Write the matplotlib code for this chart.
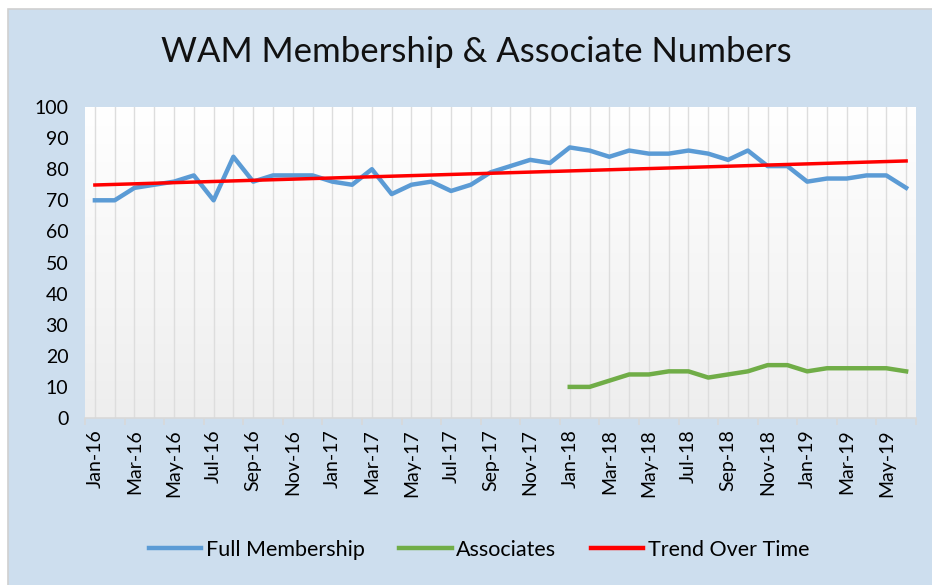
import numpy as np
import matplotlib.pyplot as plt
from matplotlib.colors import LinearSegmentedColormap
from matplotlib.patches import Rectangle
from matplotlib.lines import Line2D

plt.rcParams["font.family"] = ["Lato", "DejaVu Sans"]

# Data
months = [
  "Jan-16", "Feb-16", "Mar-16", "Apr-16", "May-16", "Jun-16",
  "Jul-16", "Aug-16", "Sep-16", "Oct-16", "Nov-16", "Dec-16",
  "Jan-17", "Feb-17", "Mar-17", "Apr-17", "May-17", "Jun-17",
  "Jul-17", "Aug-17", "Sep-17", "Oct-17", "Nov-17", "Dec-17",
  "Jan-18", "Feb-18", "Mar-18", "Apr-18", "May-18", "Jun-18",
  "Jul-18", "Aug-18", "Sep-18", "Oct-18", "Nov-18", "Dec-18",
  "Jan-19", "Feb-19", "Mar-19", "Apr-19", "May-19", "Jun-19",
]
full_membership = [
  70, 70, 74, 75, 76, 78, 70, 84, 76, 78, 78, 78,
  76, 75, 80, 72, 75, 76, 73, 75, 79, 81, 83, 82,
  87, 86, 84, 86, 85, 85, 86, 85, 83, 86, 81, 81,
  76, 77, 77, 78, 78, 74,
]
associates_start = "Jan-18"
associates = [10, 10, 12, 14, 14, 15, 15, 13, 14, 15, 17, 17, 15, 16, 16, 16, 16, 15]

BLUE = "#5b9bd5"
GREEN = "#70ad47"
RED = "#ff0000"
BG = "#cddeee"

x = np.arange(len(months))
a0 = months.index(associates_start)
xa = x[a0:a0 + len(associates)]

# linear trend of full membership
slope, intercept = np.polyfit(x, full_membership, 1)
trend = slope * x + intercept

fig = plt.figure(figsize=(9.32, 5.85), dpi=100)
fig.patch.set_facecolor("white")
bg = Rectangle((8 / 932, -0.01), 1, 1.01 - 9 / 585, transform=fig.transFigure,
               facecolor=BG, edgecolor="#d0d0d0", linewidth=1.2, zorder=-10)
fig.patches.append(bg)

ax = fig.add_axes([85 / 932, 1 - 418 / 585, 831 / 932, 311 / 585])
ax.set_xlim(-0.5, 41.5)
ax.set_ylim(0, 100)

# white-to-gray gradient for the plot area
grad = np.linspace(0, 1, 256).reshape(-1, 1)
ax.imshow(grad, extent=(-0.5, 41.5, 0, 100), aspect="auto", origin="upper",
          cmap=LinearSegmentedColormap.from_list("g", ["#ffffff", "#eeeeee"]),
          zorder=0)

for xi in x:
  ax.axvline(xi, color="#dddddd", linewidth=1.0, zorder=1)

ax.plot(x, full_membership, color=BLUE, linewidth=3.2, solid_joinstyle="round", zorder=3)
ax.plot(xa, associates, color=GREEN, linewidth=3.2, solid_joinstyle="round", zorder=3)
ax.plot(x, trend, color=RED, linewidth=2.5, zorder=4)

for s in ["top", "right", "left"]:
  ax.spines[s].set_visible(False)
ax.spines["bottom"].set_color("#d9d9d9")
ax.spines["bottom"].set_linewidth(1.2)

ax.set_yticks(range(0, 101, 10))
ax.tick_params(axis="y", length=0, labelsize=14, pad=12)
ax.set_xticks(x[::2])
ax.set_xticklabels(months[::2], rotation=90, fontsize=14)
ax.tick_params(axis="x", which="major", length=0, pad=8)
ax.set_xticks(np.arange(-0.5, 42, 2), minor=True)
ax.tick_params(axis="x", which="minor", length=5, color="#d9d9d9", width=1.2)

fig.text(476 / 932, 1 - 52 / 585, "WAM Membership & Associate Numbers",
         ha="center", va="center", fontsize=25, color="#111111")

handles = [
  Line2D([], [], color=BLUE, linewidth=3.2, label="Full Membership"),
  Line2D([], [], color=GREEN, linewidth=3.2, label="Associates"),
  Line2D([], [], color=RED, linewidth=3.2, label="Trend Over Time"),
]
fig.legend(handles=handles, loc="center", bbox_to_anchor=(479 / 932, 1 - 550 / 585),
           ncol=3, frameon=False, fontsize=15.5, handlelength=2.45, handletextpad=0.2,
           columnspacing=1.6)

fig.savefig("out.png", dpi=100)
